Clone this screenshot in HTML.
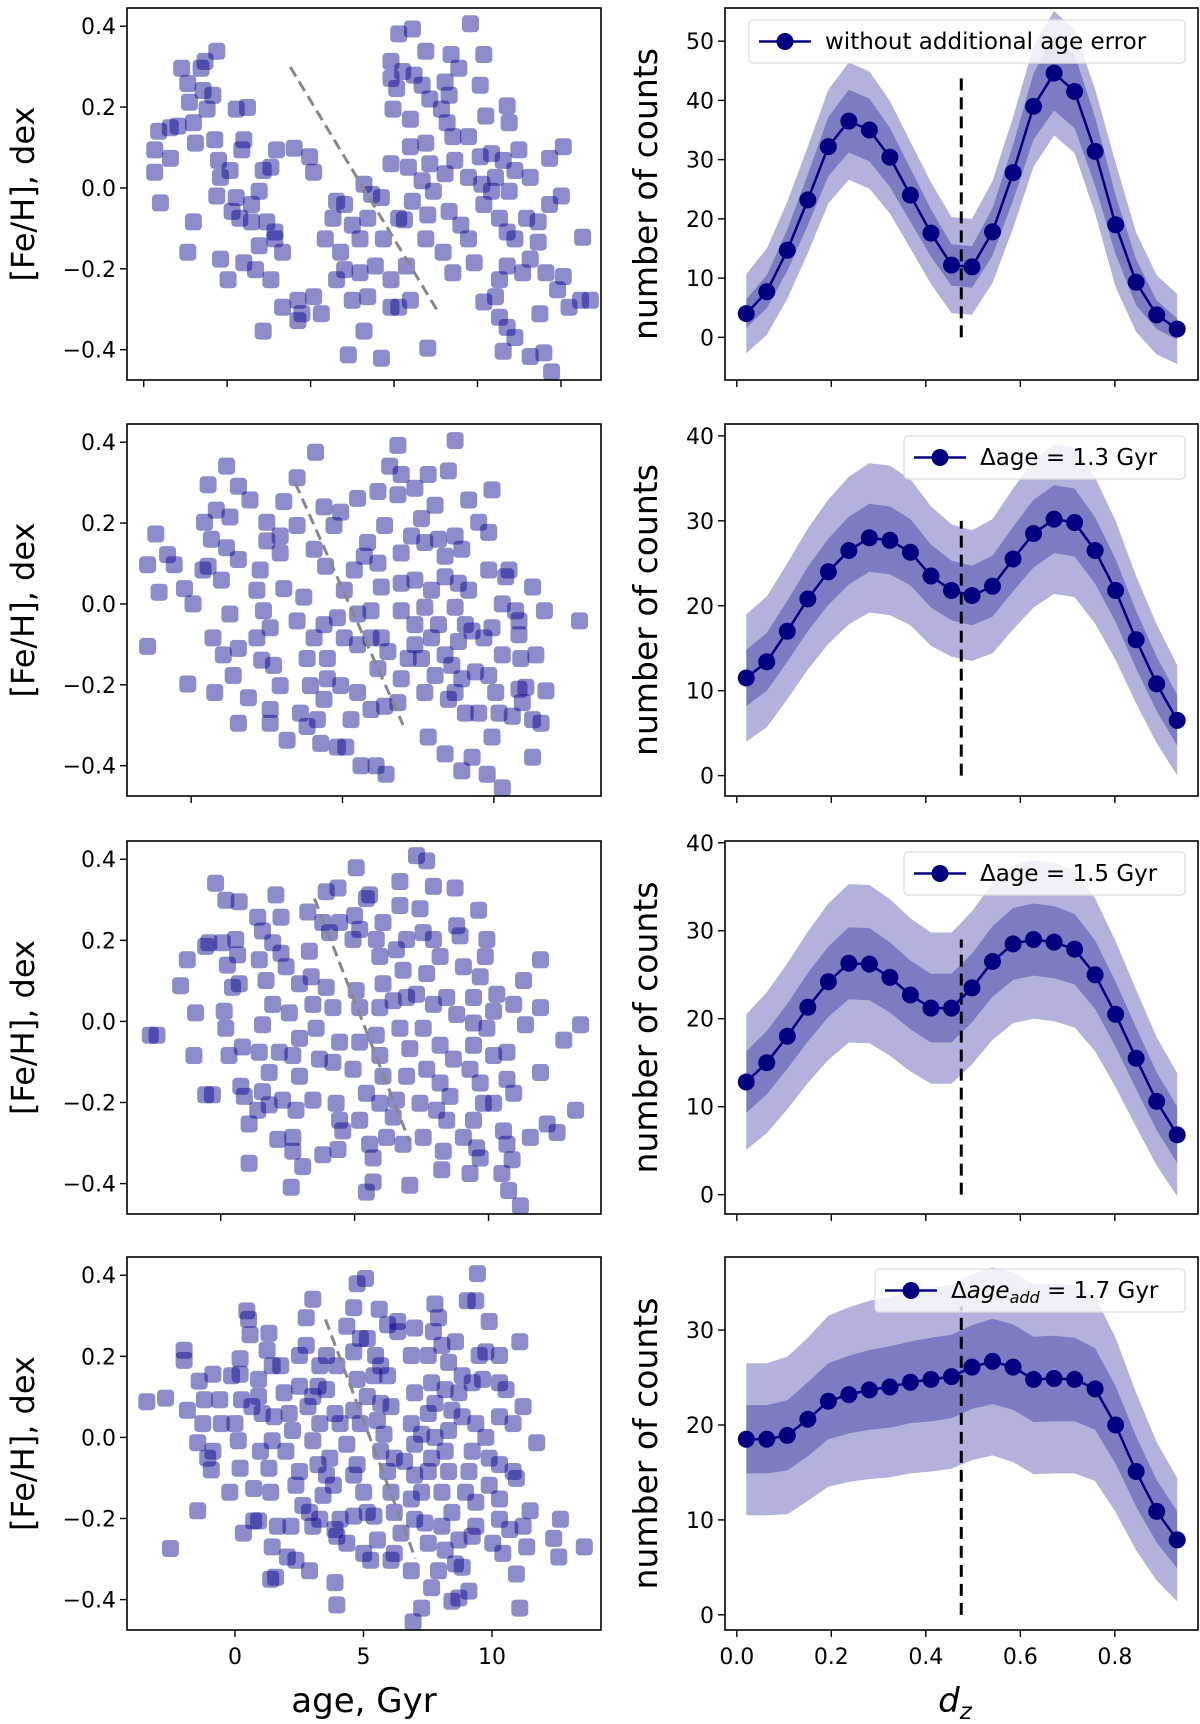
<!DOCTYPE html>
<html><head><meta charset="utf-8"><style>
html,body{margin:0;padding:0;background:#fff}
svg{display:block;font-family:"DejaVu Sans","Liberation Sans",sans-serif}
</style></head><body>
<svg id="fig" width="1200" height="1724" viewBox="0 0 1200 1724" xmlns="http://www.w3.org/2000/svg"></svg>
<script>
// ---------- data ----------
const dzX = [0.02,0.0634,0.1069,0.1503,0.1937,0.2371,0.2806,0.324,0.3674,0.4109,0.4543,0.4977,0.5411,0.5846,0.628,0.6714,0.7149,0.7583,0.8017,0.8451,0.8886,0.932];
const counts1 = [4,7.7,14.7,23.2,32.2,36.5,35,30.4,24,17.6,12.2,11.9,17.8,27.8,39,44.6,41.5,31.4,19,9.3,3.8,1.4];
const counts2 = [11.5,13.4,17,20.8,24,26.5,28,27.7,26.3,23.5,21.8,21.2,22.3,25.5,28.5,30.2,29.8,26.5,21.8,16,10.8,6.5];
const counts3 = [12.8,15,18,21.3,24.2,26.3,26.2,24.7,22.7,21.2,21.2,23.5,26.5,28.5,29,28.7,27.9,25,20.5,15.5,10.6,6.8];
const counts4 = [18.5,18.5,18.9,20.6,22.5,23.2,23.7,24,24.5,24.8,25.1,26.1,26.7,26.1,24.8,24.9,24.8,23.8,20,15.1,10.9,7.9];
const outer1 = [6.7,7.3,8.2,9,9.6,9.9,9.9,9.5,9,8.6,8.1,8.1,8.6,9.4,10.2,10.5,10.4,10.5,10.5,8.4,6.7,5.9];
const inner1 = [2.4,2.8,3.5,4.3,5,5.3,5.3,5,4.5,4,3.5,3.5,4,4.7,5.6,6.3,6.2,5.8,5,3.9,2.4,1.8];
const outer2 = [7.5,7.7,8,8.3,8.5,8.7,8.8,8.8,8.6,8.2,7.8,7.7,7.9,8.3,8.7,8.8,8.8,8.6,8.2,7.5,7,6.5];
const inner2 = [3.3,3.4,3.6,3.8,3.9,4,4,4,3.9,3.7,3.5,3.5,3.6,3.8,4,4,4,3.9,3.7,3.4,3.2,3];
const outer3 = [7.7,8,8.3,8.6,8.9,9,9,8.9,8.7,8.6,8.6,8.7,8.9,9,9,9,8.9,8.7,8.3,7.8,7.3,7];
const inner3 = [3.5,3.6,3.7,3.9,4,4.1,4.1,4,3.9,3.9,3.9,3.9,4,4.1,4.1,4.1,4,3.9,3.7,3.5,3.3,3.2];
const outer4 = [8,8,8.3,8.6,9,9.2,9.4,9.5,9.6,9.7,9.7,9.8,9.9,10,10,10,9.9,9.7,9.2,8.3,7.3,6.5];
const inner4 = [3.6,3.6,3.7,3.9,4,4.1,4.2,4.3,4.3,4.4,4.4,4.4,4.5,4.5,4.5,4.5,4.4,4.3,4.1,3.7,3.3,3];
const dashTops = [44,30,29,32.5];
const dzSplit = 0.475;
const legendLabels = ["without additional age error","Δage = 1.3 Gyr","Δage = 1.5 Gyr","Δage_add = 1.7 Gyr"];
const feTicks = [0.4,0.2,0.0,-0.2,-0.4];
const feTickLabels = ["0.4","0.2","0.0","−0.2","−0.4"];
const dzTicks = [0,0.2,0.4,0.6,0.8];
const dzTickLabels = ["0.0","0.2","0.4","0.6","0.8"];
const ageTicks1 = [-2.5,0,2.5,5,7.5,10];
const ageTicks = [0,5,10];
const ageTickLabels = ["0","5","10"];
const cntTicks1 = [0,10,20,30,40,50];
const cntTicks2 = [0,10,20,30,40];
const cntTicks4 = [0,10,20,30];
const trendLines = [[1.89,0.299,6.28,-0.301],[3.44,0.299,7.0,-0.299],[3.5,0.303,7.04,-0.295],[3.52,0.291,7.02,-0.299]];

const stars1 = [[-2.17,0.094],[-2.17,0.039],[-2.0,-0.037],[-2.05,0.14],[-1.7,0.149],[-1.7,0.073],[-1.47,0.153],[-1.36,0.296],[-1.18,0.258],[-1.13,0.212],[-1.01,0.161],[-0.95,0.111],[-1.01,-0.084],[-1.18,-0.159],[-0.78,0.296],[-0.66,0.313],[-0.31,0.338],[-0.72,0.241],[-0.6,0.195],[-0.43,0.229],[-0.37,0.119],[-0.26,0.068],[-0.2,0.026],[-0.31,-0.02],[0.27,0.195],[0.61,0.199],[0.44,0.094],[0.5,0.119],[0.09,0.043],[0.27,-0.024],[0.38,-0.075],[0.73,-0.041],[0.96,-0.008],[1.08,0.043],[1.31,0.051],[1.48,0.094],[2.01,0.098],[2.47,0.077],[2.59,0.039],[1.19,-0.084],[1.43,-0.126],[1.66,-0.159],[0.96,-0.143],[0.5,-0.185],[0.03,-0.227],[-0.2,-0.176],[0.85,-0.202],[1.31,-0.227],[1.66,-0.295],[2.12,-0.278],[2.12,-0.328],[2.59,-0.269],[2.82,-0.311],[2.94,-0.126],[3.17,-0.075],[3.28,-0.033],[3.52,-0.041],[3.75,-0.092],[3.98,-0.126],[4.21,-0.075],[4.33,-0.016],[4.1,0.009],[3.52,-0.202],[3.28,-0.227],[3.75,-0.278],[3.98,-0.21],[4.21,-0.269],[4.1,-0.354],[3.63,-0.413],[4.62,-0.421],[4.62,-0.024],[4.68,-0.126],[4.91,-0.227],[5.14,-0.295],[5.49,-0.278],[5.14,-0.075],[5.37,-0.193],[1.08,-0.354],[2.24,-0.311],[1.43,-0.109],[0.73,-0.084],[0.15,-0.058],[3.4,-0.159],[4.44,-0.193],[4.91,-0.295],
[4.91,0.313],[5.14,0.381],[5.55,0.393],[4.91,0.271],[5.08,0.246],[5.26,0.288],[5.6,0.279],[5.84,0.254],[5.95,0.338],[6.07,0.22],[6.53,0.262],[6.71,0.33],[6.94,0.296],[6.65,0.229],[6.42,0.195],[6.59,0.161],[6.76,0.127],[7.23,0.127],[7.29,0.406],[7.69,0.33],[7.58,0.254],[7.75,0.178],[8.39,0.203],[8.45,0.161],[4.97,0.195],[5.49,0.17],[5.95,0.111],[5.49,0.102],[6.07,0.06],[6.53,0.035],[6.82,0.068],[7.23,0.026],[7.58,0.077],[7.92,0.085],[8.27,0.068],[8.62,0.043],[8.74,0.094],[8.04,0.026],[9.08,0.026],[9.66,0.073],[10.07,0.102],[10.65,-0.122],[10.01,-0.02],[9.66,-0.041],[6.65,-0.058],[7.0,-0.092],[7.23,-0.126],[7.4,-0.185],[7.69,-0.041],[7.92,-0.008],[8.16,-0.075],[8.39,-0.109],[8.62,-0.126],[8.97,-0.075],[9.32,-0.084],[9.32,-0.134],[9.08,-0.176],[8.85,-0.21],[8.39,-0.193],[8.16,-0.227],[8.04,-0.269],[8.16,-0.32],[8.39,-0.345],[8.62,-0.37],[8.27,-0.404],[9.08,-0.417],[9.49,-0.408],[9.72,-0.455],[9.37,-0.311],[9.55,-0.21],[10.07,-0.219],[9.9,-0.252],[10.24,-0.295],[10.59,-0.278],[10.88,-0.278],[7.69,-0.282],[6.76,-0.21],[6.47,-0.159],[6.01,-0.067],[5.55,-0.033],[5.31,-0.079],[6.01,-0.396],[4.91,0.06],[5.43,0.051],[5.84,0.018],[6.18,-0.008],[5.95,-0.126],[7.63,0.009],[8.45,-0.008]];

const stars2 = [[-1.44,0.097],[-1.17,0.173],[-1.06,0.029],[-1.44,-0.105],[-0.78,0.122],[-0.56,0.097],[-0.22,0.038],[0.06,0],[-0.11,-0.198],[0.56,0.295],[1.17,0.341],[1.56,0.291],[1.94,0.257],[0.44,0.202],[0.67,0.16],[0.83,0.232],[1.28,0.215],[1.17,0.139],[1.56,0.11],[0.56,0.093],[1.0,0.059],[0.39,0.084],[1.28,-0.025],[0.72,-0.084],[1.06,-0.126],[1.56,-0.11],[1.39,-0.177],[0.78,-0.219],[1.56,-0.295],[1.89,-0.232],[2.5,0.202],[2.5,0.156],[2.94,0.168],[2.94,0.126],[2.28,0.084],[3.06,0.038],[2.17,0.034],[2.39,-0.017],[2.61,-0.059],[2.17,-0.084],[2.33,-0.139],[2.72,-0.152],[2.94,-0.202],[2.61,-0.261],[2.61,-0.295],[3.17,-0.337],[3.61,-0.27],[3.83,-0.303],[4.17,-0.286],[4.39,-0.236],[4.28,-0.345],[4.83,-0.354],[5.11,-0.354],[3.06,0.253],[3.5,0.312],[4.11,0.375],[3.5,0.194],[4.06,0.135],[4.39,0.24],[4.72,0.194],[4.44,0.093],[3.72,0.017],[3.5,-0.042],[4.06,-0.084],[4.39,-0.051],[4.83,-0.034],[5.06,-0.084],[4.5,-0.135],[3.83,-0.135],[3.94,-0.202],[4.5,-0.185],[4.94,-0.202],[5.28,-0.286],[5.5,-0.219],[5.61,-0.4],[6.11,-0.4],[6.44,-0.421],[5.94,-0.261],[6.39,-0.253],[6.83,-0.244],[5.5,-0.101],[5.94,-0.084],[6.28,-0.084],[6.17,-0.16],[6.5,-0.118],[6.94,-0.185],[7.17,-0.135],[5.5,-0.025],[5.94,-0.017],[5.06,0.034],[5.39,0.084],[5.72,0.118],[6.17,0.101],[6.28,0.042],[5.83,0.152],[6.39,0.194],[6.17,0.278],[5.5,0.261],[4.94,0.227],[6.83,0.392],[6.56,0.341],[6.94,0.32],[7.39,0.286],[6.83,0.27],[7.83,0.32],[8.5,0.329],[8.72,0.404],[8.06,0.244],[7.61,0.211],[7.28,0.168],[6.94,0.126],[7.72,0.152],[8.17,0.16],[8.39,0.118],[6.94,0.051],[7.39,0.059],[7.94,0.034],[8.39,0.067],[8.83,0.051],[9.17,0.034],[6.94,-0.017],[7.39,-0.051],[7.72,-0.008],[8.17,-0.051],[8.72,-0.008],[9.06,-0.051],[7.39,-0.101],[7.94,-0.084],[8.39,-0.126],[8.83,-0.093],[9.28,-0.067],[7.61,-0.135],[8.06,-0.177],[8.61,-0.152],[8.94,-0.185],[9.39,-0.168],[9.83,-0.177],[7.72,-0.219],[8.5,-0.236],[8.72,-0.219],[9.06,-0.27],[9.5,-0.27],[7.83,-0.329],[8.39,-0.371],[8.94,-0.413],[9.28,-0.379],[9.78,-0.421],[10.28,-0.455],[9.94,-0.329],[10.17,-0.27],[10.61,-0.278],[10.06,-0.219],[10.94,-0.244],[11.28,-0.286],[11.56,-0.295],[10.83,-0.211],[11.06,-0.206],[11.72,-0.215],[11.28,-0.379],[9.67,-0.084],[10.28,-0.126],[10.89,-0.135],[11.39,-0.126],[9.94,-0.059],[10.83,-0.076],[10.83,-0.042],[10.72,-0.017],[10.28,0],[11.67,-0.017],[12.83,-0.042],[11.28,0.042],[10.39,0.067],[9.83,0.084],[10.5,0.084],[9.83,0.177],[9.5,0.202],[9.17,0.257],[9.94,0.282],[8.72,0.168],[8.94,0.135]];

const stars3 = [[-2.63,-0.034],[-2.38,-0.034],[-1.5,0.088],[-1.25,0.152],[-0.94,0.021],[-1.0,-0.084],[-0.56,-0.181],[-0.31,-0.181],[-0.56,0.185],[-0.44,0.194],[-0.19,0.341],[0.19,0.299],[0.69,0.295],[0.06,0.194],[0.25,0.139],[0.56,0.202],[0.63,0.164],[0.69,0.093],[0.44,0.084],[0.13,0.025],[0.19,-0.017],[0.31,-0.084],[0.81,-0.063],[0.75,-0.16],[0.88,-0.185],[1.06,-0.253],[1.06,-0.35],[1.56,-0.173],[1.38,-0.219],[1.81,-0.206],[1.38,0.257],[1.56,0.223],[1.44,0.152],[1.69,0.101],[1.94,0.194],[2.06,0.312],[2.25,0.257],[2.25,0.168],[2.44,0.135],[1.94,0.042],[2.56,0.021],[1.56,-0.008],[1.44,-0.076],[1.81,-0.126],[2.19,-0.076],[2.31,-0.194],[2.13,-0.291],[2.69,-0.286],[2.69,-0.32],[3.06,-0.358],[2.63,-0.409],[2.81,-0.219],[2.94,-0.135],[2.69,-0.084],[2.94,-0.042],[2.94,0.093],[3.31,0.173],[3.25,0.27],[3.38,0.11],[3.44,0.042],[3.56,-0.017],[3.69,-0.093],[3.44,-0.194],[3.81,-0.329],[3.94,0.32],[4.38,0.329],[3.81,0.244],[4.44,0.244],[4.06,0.219],[3.94,0.084],[4.19,0.034],[4.44,-0.051],[4.19,-0.101],[4.31,-0.202],[4.44,-0.244],[4.38,-0.316],[4.56,-0.27],[5.06,0.379],[5.0,0.261],[4.94,0.202],[5.19,0.227],[5.44,0.303],[5.56,0.312],[5.06,0.076],[5.19,0.034],[5.19,-0.051],[4.94,-0.118],[5.44,-0.177],[5.19,-0.244],[5.56,-0.303],[5.69,-0.337],[5.69,-0.396],[5.44,-0.421],[5.81,0.202],[6.06,0.244],[5.94,0.16],[6.06,0.093],[5.94,0.034],[5.81,-0.034],[5.94,-0.084],[6.06,-0.135],[5.94,-0.202],[6.19,-0.286],[6.44,-0.236],[6.69,0.345],[6.69,0.286],[6.94,0.202],[6.56,0.177],[6.81,0.126],[6.44,0.051],[6.94,0.059],[6.69,-0.017],[7.06,-0.067],[6.94,-0.135],[6.56,-0.194],[6.81,-0.303],[7.06,-0.404],[7.31,0.409],[7.69,0.396],[7.94,0.333],[8.75,0.329],[7.44,0.278],[7.56,0.219],[7.94,0.202],[8.19,0.16],[7.69,0.118],[7.31,0.067],[7.94,0.042],[8.44,0.059],[8.81,0.017],[7.56,-0.017],[8.19,-0.059],[8.69,-0.093],[7.69,-0.118],[8.19,-0.152],[8.56,-0.185],[7.44,-0.202],[8.06,-0.219],[8.44,-0.244],[7.56,-0.286],[8.31,-0.32],[8.25,-0.366],[8.81,0.236],[8.94,0.211],[9.06,0.135],[9.63,0.274],[9.94,0.202],[9.88,0.16],[9.69,0.11],[9.44,0.059],[9.44,-0.004],[9.94,-0.017],[9.44,-0.059],[9.31,-0.118],[9.69,-0.152],[9.81,-0.202],[9.44,-0.244],[9.06,-0.286],[9.56,-0.312],[9.69,-0.337],[9.31,-0.375],[10.19,-0.084],[10.31,0.067],[10.19,0.025],[10.94,0.042],[11.31,0.101],[10.69,-0.076],[10.69,-0.143],[10.94,-0.177],[10.56,-0.27],[10.69,-0.303],[10.88,-0.341],[10.5,-0.375],[10.75,-0.417],[11.19,-0.455],[11.56,-0.286],[12.19,-0.253],[12.56,-0.274],[11.94,-0.126],[11.94,0.034],[11.94,0.152],[11.38,-0.008],[12.81,-0.046],[13.44,-0.008],[13.25,-0.219],[10.19,-0.202]];

const stars4 = [[-3.43,0.088],[-2.7,0.097],[-1.85,0.067],[-1.98,0.215],[-1.98,0.19],[-1.39,0.139],[-1.45,-0.013],[-0.86,0.156],[-1.25,0.034],[-1.19,0.093],[-0.53,0.034],[-0.59,0.093],[-0.86,-0.034],[-0.92,-0.08],[-1.06,-0.051],[-0.2,-0.135],[-0.13,0.152],[-1.45,-0.181],[-2.51,-0.274],[0.33,-0.236],[0.73,-0.206],[0.2,0.194],[0.46,0.312],[0.53,0.291],[0.59,0.253],[0.2,0.156],[0.26,0.093],[0,0.034],[0.13,-0.008],[0.2,-0.076],[0.66,0.076],[0.73,-0.126],[0.92,0.143],[1.25,0.215],[1.32,0.257],[1.45,0.177],[0.92,0.101],[1.06,0.059],[1.52,0.051],[1.45,-0.008],[0.99,-0.034],[1.32,-0.076],[1.39,-0.135],[0.92,-0.206],[1.45,-0.27],[1.65,-0.219],[1.39,-0.35],[2.04,-0.295],[2.37,-0.303],[1.78,0.177],[1.91,0.11],[2.11,0.059],[1.98,-0.034],[2.24,0.017],[2.51,0.126],[2.77,0.295],[2.77,0.227],[3.03,0.341],[2.51,0.202],[3.3,0.177],[3.56,0.202],[3.03,0.101],[3.23,0.126],[2.84,0.076],[3.3,0.034],[3.03,-0.008],[3.23,-0.067],[2.51,-0.084],[2.37,-0.118],[2.64,-0.168],[2.9,-0.185],[3.03,-0.219],[2.18,-0.219],[2.9,-0.329],[3.3,-0.202],[3.43,-0.143],[3.56,-0.093],[3.69,-0.051],[4.09,0.034],[3.96,0.177],[3.56,0.118],[3.89,0.059],[3.83,-0.118],[3.89,-0.227],[3.96,-0.244],[3.89,-0.358],[3.96,-0.413],[4.09,-0.202],[4.35,-0.261],[4.62,0.32],[4.35,0.274],[4.75,0.379],[5.08,0.392],[4.62,0.211],[4.88,0.244],[5.15,0.244],[4.75,0.143],[5.15,0.101],[4.62,0.067],[4.88,0.034],[4.35,-0.017],[4.75,-0.067],[4.62,-0.093],[5.01,-0.135],[5.15,-0.185],[4.62,-0.194],[5.01,-0.286],[5.28,-0.303],[5.54,-0.253],[5.41,-0.194],[5.67,-0.034],[5.54,0.042],[5.67,0.084],[5.41,0.152],[5.67,0.177],[5.47,0.202],[5.61,0.316],[5.94,0.278],[6.33,0.286],[5.94,0.152],[6.07,0.076],[5.8,0.008],[6.2,-0.051],[5.94,-0.084],[6.07,-0.135],[6.2,-0.185],[6.46,-0.236],[6.2,-0.286],[6.07,-0.303],[6.33,0.261],[6.99,0.27],[6.86,0.202],[6.99,0.11],[6.86,0.034],[6.99,-0.017],[6.6,-0.059],[6.99,-0.093],[6.86,-0.152],[6.99,-0.202],[6.86,-0.329],[7.26,-0.421],[6.93,-0.455],[7.52,-0.261],[7.39,-0.211],[7.26,-0.135],[7.52,-0.084],[7.65,-0.051],[7.26,0.008],[7.78,0],[7.52,0.059],[7.78,0.084],[7.65,0.135],[7.52,0.202],[7.72,0.261],[7.78,0.329],[7.92,0.295],[8.05,0.227],[8.31,0.185],[8.18,0.118],[8.44,0.067],[8.31,0.017],[8.18,-0.034],[8.31,-0.084],[8.05,-0.135],[8.44,-0.185],[8.05,-0.219],[8.18,-0.278],[7.92,-0.329],[7.65,-0.371],[8.44,-0.404],[8.71,-0.396],[8.58,-0.312],[8.58,0.236],[8.84,0.152],[8.71,0.11],[8.84,0.051],[9.23,-0.034],[9.1,-0.084],[8.97,-0.135],[9.37,-0.16],[9.37,-0.219],[8.71,-0.253],[9.23,-0.244],[8.84,-0.32],[9.04,0.337],[9.43,0.404],[9.37,0.337],[9.89,0.286],[9.5,0.202],[9.76,0.211],[10.29,0.202],[9.23,0.135],[9.63,0.143],[9.37,0.034],[9.76,0],[9.89,-0.051],[9.89,-0.118],[10.29,0.135],[10.55,0.118],[10.29,0.051],[10.82,0.034],[11.21,0.076],[11.08,0.236],[10.29,-0.067],[10.82,-0.084],[10.95,-0.101],[10.29,-0.152],[10.29,-0.202],[10.69,-0.227],[10.03,-0.261],[11.21,-0.219],[11.48,-0.181],[10.42,-0.286],[10.95,-0.337],[11.35,-0.27],[11.74,-0.013],[11.08,-0.421],[12.4,-0.249],[12.6,-0.295],[12.66,-0.202],[13.59,-0.27],[9.1,-0.379],[1.58,-0.345]];

const scatterSets = [stars1,stars2,stars3,stars4];
const countSets = [counts1,counts2,counts3,counts4];
const outerSets = [outer1,outer2,outer3,outer4];
const innerSets = [inner1,inner2,inner3,inner4];
const cntTickSets = [cntTicks1,cntTicks2,cntTicks2,cntTicks4];

// ---------- layout ----------
const NS = "http://www.w3.org/2000/svg";
const svg = document.getElementById('fig');
const rowsTop = [8,424,841,1257];
const rowsBot = [380,796,1214,1630];
const LX0 = 127, LX1 = 601, RX0 = 725, RX1 = 1198;
const ageDom = [[-3.0,11.2],[-2.12,13.54],[-3.5,14.2],[-4.2,14.24]];
const feDom = [-0.475,0.445];
const cntDom = [[-7.2,55.6],[-2.4,41.4],[-2.2,40.2],[-1.6,37.7]];
const dzDom = [-0.025,0.976];

function mk(tag, attrs, parent){
  const e = document.createElementNS(NS, tag);
  for (const k in attrs) e.setAttribute(k, attrs[k]);
  (parent||svg).appendChild(e);
  return e;
}
function lin(d0,d1,r0,r1){ return v => r0 + (v-d0)/(d1-d0)*(r1-r0); }

for (let r=0; r<4; r++){
  const top=rowsTop[r], bot=rowsBot[r];
  const xa = lin(ageDom[r][0],ageDom[r][1],LX0,LX1);
  const yf = lin(feDom[0],feDom[1],bot,top);
  const xd = lin(dzDom[0],dzDom[1],RX0,RX1);
  const yc = lin(cntDom[r][0],cntDom[r][1],bot,top);

  // ----- left scatter panel -----
  const gL = mk('g',{});
  
  
  const clipId='clipL'+r;
  const cp = mk('clipPath',{id:clipId},gL);
  mk('rect',{x:LX0,y:top,width:LX1-LX0,height:bot-top},cp);
  const pts = mk('g',{'clip-path':'url(#'+clipId+')'},gL);
  
  
  scatterSets[r].forEach(p=>{
    const s = mk('rect',{x:(xa(p[0])-8.5).toFixed(1),y:(yf(p[1])-8.5).toFixed(1),width:17,height:17,rx:4,fill:'#00008b','fill-opacity':0.45},pts);
    
    
  });
  const tl = trendLines[r];
  const tr = mk('line',{x1:xa(tl[0]),y1:yf(tl[1]),x2:xa(tl[2]),y2:yf(tl[3]),stroke:'#888','stroke-width':3,'stroke-dasharray':'11,6'},gL);
  
  
  const fL = mk('rect',{x:LX0,y:top,width:LX1-LX0,height:bot-top,fill:'none',stroke:'#000','stroke-width':1.6},gL);
  
  
  feTicks.forEach((t,i)=>{
    const y=yf(t);
    mk('line',{x1:LX0-7,y1:y,x2:LX0,y2:y,stroke:'#000','stroke-width':1.4},gL);
    const tx = mk('text',{x:LX0-11,y:y+8,'text-anchor':'end','font-size':22,fill:'#000'},gL);
    tx.textContent=feTickLabels[i];
    
    
  });
  const at = r===0 ? ageTicks1 : ageTicks;
  at.forEach((t,i)=>{
    const x=xa(t);
    mk('line',{x1:x,y1:bot,x2:x,y2:bot+7,stroke:'#000','stroke-width':1.4},gL);
    if (r===3){
      const tx = mk('text',{x:x,y:bot+34,'text-anchor':'middle','font-size':22,fill:'#000'},gL);
      tx.textContent=ageTickLabels[i];
      
      
    }
  });
  const yl = mk('text',{x:0,y:0,transform:'translate(34,'+((top+bot)/2)+') rotate(-90)','text-anchor':'middle','font-size':32,fill:'#000'},gL);
  yl.textContent='[Fe/H], dex';
  
  

  // ----- right distribution panel -----
  const gR = mk('g',{});
  
  
  const v = countSets[r], o = outerSets[r], n = innerSets[r];
  function band(hw){
    let d='';
    dzX.forEach((x,i)=>{ d += (i?'L':'M')+xd(x).toFixed(1)+','+yc(v[i]+hw[i]).toFixed(1); });
    for (let i=dzX.length-1;i>=0;i--) d += 'L'+xd(dzX[i]).toFixed(1)+','+yc(v[i]-hw[i]).toFixed(1);
    return d+'Z';
  }
  const ob = mk('path',{d:band(o),fill:'#00008b','fill-opacity':0.3},gR);
  
  
  const ib = mk('path',{d:band(n),fill:'#00008b','fill-opacity':0.3},gR);
  
  
  const dl = mk('line',{x1:xd(dzSplit),y1:yc(0),x2:xd(dzSplit),y2:yc(dashTops[r]),stroke:'#000','stroke-width':3,'stroke-dasharray':'12,7'},gR);
  
  
  const ln = mk('polyline',{points:dzX.map((x,i)=>xd(x).toFixed(1)+','+yc(v[i]).toFixed(1)).join(' '),fill:'none',stroke:'#000080','stroke-width':2.5},gR);
  
  
  dzX.forEach((x,i)=>{
    const c = mk('circle',{cx:xd(x),cy:yc(v[i]),r:8.5,fill:'#000080'},gR);
    
    
  });
  const fR = mk('rect',{x:RX0,y:top,width:RX1-RX0,height:bot-top,fill:'none',stroke:'#000','stroke-width':1.6},gR);
  
  
  cntTickSets[r].forEach(t=>{
    const y=yc(t);
    mk('line',{x1:RX0-7,y1:y,x2:RX0,y2:y,stroke:'#000','stroke-width':1.4},gR);
    const tx = mk('text',{x:RX0-11,y:y+8,'text-anchor':'end','font-size':22,fill:'#000'},gR);
    tx.textContent=String(t);
    
    
  });
  dzTicks.forEach((t,i)=>{
    const x=xd(t);
    mk('line',{x1:x,y1:bot,x2:x,y2:bot+7,stroke:'#000','stroke-width':1.4},gR);
    if (r===3){
      const tx = mk('text',{x:x,y:bot+34,'text-anchor':'middle','font-size':22,fill:'#000'},gR);
      tx.textContent=dzTickLabels[i];
      
      
    }
  });
  const yr = mk('text',{x:0,y:0,transform:'translate(657,'+((top+bot)/2)+') rotate(-90)','text-anchor':'middle','font-size':33,fill:'#000'},gR);
  yr.textContent='number of counts';
  
  

  // legend
  const lx = r===0 ? 749 : (r===3 ? 875 : 904);
  const ly = r===0 ? 20 : [0,436,852,1269][r];
  const lg = mk('g',{},gR);
  
  
  mk('rect',{x:lx,y:ly,width:1185-lx,height:43,rx:4,fill:'#fff','fill-opacity':0.8,stroke:'#ddd','stroke-width':1.2},lg);
  mk('line',{x1:lx+10,y1:ly+21.5,x2:lx+62,y2:ly+21.5,stroke:'#000080','stroke-width':2.5},lg);
  mk('circle',{cx:lx+36,cy:ly+21.5,r:8.5,fill:'#000080'},lg);
  const lt = mk('text',{x:lx+76,y:ly+29,'font-size':23,fill:'#000'},lg);
  if (r===3){
    lt.innerHTML = 'Δ<tspan font-style="italic">age</tspan><tspan font-style="italic" font-size="16" dy="5">add</tspan><tspan dy="-5"> = 1.7 Gyr</tspan>';
  } else {
    lt.textContent = legendLabels[r];
  }
  
  
}
const xl = mk('text',{x:364,y:1712,'text-anchor':'middle','font-size':34,fill:'#000'});
xl.textContent='age, Gyr';


const xr = mk('text',{x:955,y:1712,'text-anchor':'middle','font-size':34,fill:'#000'});
xr.innerHTML='<tspan font-style="italic">d</tspan><tspan font-style="italic" font-size="23" dy="7">z</tspan>';


</script>
</body></html>
